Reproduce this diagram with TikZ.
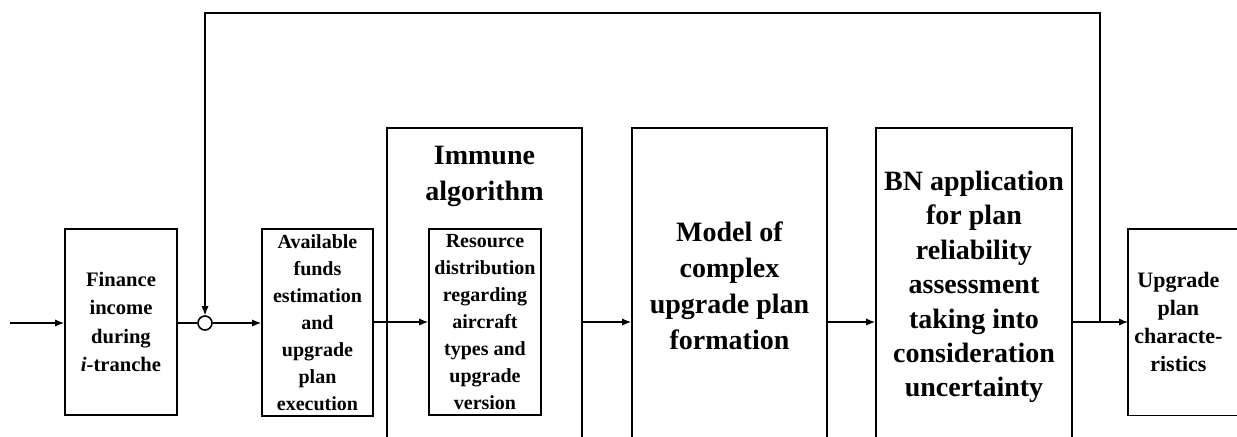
\documentclass[tikz,border=0pt]{standalone}
\usepackage{fontspec}
\setmainfont{Liberation Serif}
\usetikzlibrary{calc,arrows.meta}

\begin{document}
\begin{tikzpicture}[x=0.5pt,y=-0.5pt,>={Latex[length=4.5pt,width=3.6pt]},
    box/.style={draw,line width=0.9pt,inner sep=0pt,align=center},
    bigtxt/.style={font=\fontsize{14}{18}\selectfont\bfseries},
    midtxt/.style={font=\fontsize{10.3}{14.2}\selectfont\bfseries},
    smalltxt/.style={font=\fontsize{10}{13.5}\selectfont\bfseries},
    link/.style={line width=0.6pt}]
    % page frame (pixel units, y downwards)
    \useasboundingbox (0,0) rectangle (1237,436);
    \clip (0,0) rectangle (1237,436);

    % main chain of blocks
    \node[box,midtxt,minimum width=56pt,minimum height=93pt] (fin) at (121,322)
        {Finance\\income\\during\\\textit{i}-tranche};
    \node[draw,circle,line width=0.8pt,minimum size=7pt,inner sep=0pt] (sum) at (205,323) {};
    \node[box,smalltxt,minimum width=55.5pt,minimum height=93.5pt] (avail) at (317.5,322.5)
        {Available\\funds\\estimation\\and\\upgrade\\plan\\execution};

    % immune algorithm block with inner block
    \node[box,minimum width=97.5pt,minimum height=166pt] (imm) at (484.5,294) {};
    \node[bigtxt,align=center] (immtitle) at (484.5,176) {Immune\\algorithm};
    \node[box,smalltxt,minimum width=56pt,minimum height=93pt] (res) at (485,322)
        {Resource\\distribution\\regarding\\aircraft\\types and\\upgrade\\version};

    \node[box,bigtxt,minimum width=97.5pt,minimum height=158pt] (model) at (729.5,286)
        {Model of\\complex\\upgrade plan\\formation};
    \node[box,font=\fontsize{14}{17.2}\selectfont\bfseries,minimum width=98pt,minimum height=159pt] (bn) at (974,287)
        {BN application\\for plan\\reliability\\assessment\\taking into\\consideration\\uncertainty};

    % output block, open to the right
    \node[font=\fontsize{11}{14}\selectfont\bfseries,align=center,text width=50pt,
          inner xsep=0pt,minimum height=93pt,anchor=west] (upg) at (1128,322)
        {Upgrade\\plan\\characte-\\ristics};
    \draw[line width=0.9pt] (upg.north east) -- (upg.north west) -- (upg.south west) -- (upg.south east)
        -- ++(40pt,0) (upg.north east) -- ++(40pt,0);

    % connectors
    \coordinate (in) at (10,323);
    \draw[link,->] (in) -- (fin.west |- in);
    \draw[link] (fin.east |- sum) -- (sum.west);
    \draw[link,->] (sum.east) -- (avail.west |- sum);
    \draw[link,->] (avail.east |- res) -- (res.west);
    \draw[link,->] (imm.east |- res) -- (model.west |- res);
    \draw[link,->] (model.east |- res) -- (bn.west |- res);
    \draw[link,->] (bn.east |- res) -- (upg.west |- res);

    % feedback loop
    \coordinate (tap) at (1100,322);
    \coordinate (ret) at (1100,13);
    \draw[link,->] (tap) -- (ret) -| (sum.north);
\end{tikzpicture}
\end{document}
